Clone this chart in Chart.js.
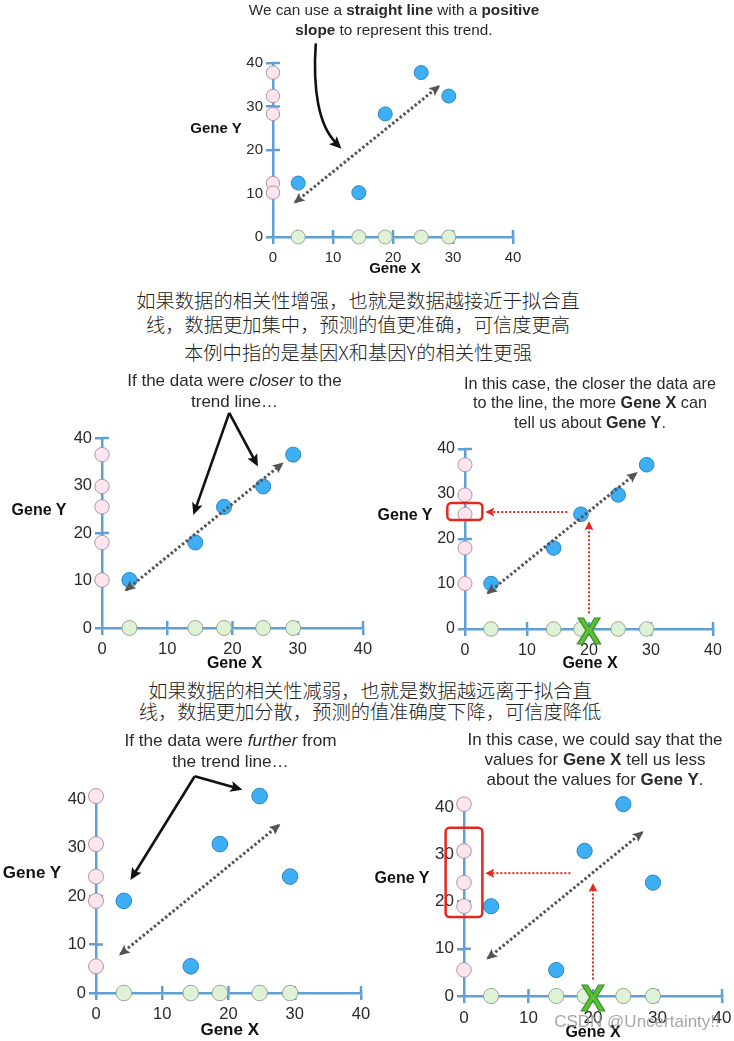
<!DOCTYPE html>
<html><head><meta charset="utf-8">
<script src="https://cdn.jsdelivr.net/npm/chart.js@4"></script>
<style>
html,body{margin:0;padding:0;background:#fff;}
body{width:734px;height:1041px;position:relative;overflow:hidden;font-family:"Liberation Sans",Arial,sans-serif;color:#222;}
canvas{position:absolute;}
.t{position:absolute;text-align:center;white-space:nowrap;width:600px;z-index:2;}
.cap{font-size:15px;color:#2a2a2a;}
.zh{font-family:"Noto Sans CJK SC",sans-serif;font-size:19.3px;color:#222;font-weight:300;}
.ax{font-weight:bold;font-size:16px;color:#111;}
.wm{font-size:17px;color:rgba(150,150,150,0.85);}
</style></head><body>
<script>
// ---------------- data ----------------
const tickVals = [0, 10, 20, 30, 40];
const geneX = [4.2, 14.3, 18.7, 24.7, 29.3];
const geneYBase = [12.4, 10.2, 28.3, 37.8, 32.4];
const geneYCloser = [10.1, 18.0, 25.5, 29.8, 36.5];
const geneYFurther = [19.0, 5.5, 30.7, 40.6, 24.0];
const trendLine = [[3.7, 8.0], [27.6, 34.6]];
const predictX = 20;
const predictY = 26;
const predictFromY = 3.5;
const predictToY = 23.5;
const predictFromX = 16.5;
const predictToX = 3.6;
// annotation paths (data units)
const curveTop = [[7.13, 44.5], [6.6, 34], [7.6, 25.5], [11.4, 20.3]];
const arrowsCloser = [[[19.5, 45.3], [14.0, 23.8]], [[19.5, 45.3], [23.9, 34.0]]];
const arrowsFurther = [[[14.9, 44.7], [5.2, 23.3]], [[14.9, 44.7], [22.1, 41.9]]];
const boxCloser = [-2.85, 24.2, 2.8, 28.0];
const boxFurther = [-2.85, 16.7, 2.85, 35.6];

const AXIS = '#5e9fd6';
const BLUE = '#3eaef5', BLUE_B = '#2a84c4';
const PINK = '#fde4ef', PINK_B = '#a8979f';
const GREEN = '#def3d5', GREEN_B = '#9aa596';
const GREY = '#555555', RED = '#e3281e';
Chart.defaults.font.family = "'Liberation Sans', Arial, sans-serif";

function head(ctx, x1, y1, x2, y2, len, w, color) {
  const a = Math.atan2(y2 - y1, x2 - x1);
  ctx.save(); ctx.fillStyle = color; ctx.beginPath();
  ctx.moveTo(x2, y2);
  ctx.lineTo(x2 - len * Math.cos(a) + w * Math.sin(a), y2 - len * Math.sin(a) - w * Math.cos(a));
  ctx.lineTo(x2 - len * Math.cos(a) * 0.8, y2 - len * Math.sin(a) * 0.8);
  ctx.lineTo(x2 - len * Math.cos(a) - w * Math.sin(a), y2 - len * Math.sin(a) + w * Math.cos(a));
  ctx.closePath(); ctx.fill(); ctx.restore();
}

const decor = {
  id: 'decor',
  beforeDatasetsDraw(chart) {
    const {ctx, chartArea: a, scales: {x, y}} = chart;
    ctx.save(); ctx.strokeStyle = AXIS; ctx.lineWidth = 2.5;
    tickVals.filter(v => v > 0).forEach(v => {
      const px = x.getPixelForValue(v);
      ctx.beginPath(); ctx.moveTo(px, a.bottom); ctx.lineTo(px, a.bottom - 7); ctx.stroke();
      const py = y.getPixelForValue(v);
      ctx.beginPath(); ctx.moveTo(a.left, py); ctx.lineTo(a.left + 7, py); ctx.stroke();
    });
    ctx.restore();
  },
  afterDatasetsDraw(chart) {
    const {ctx, scales: {x, y}} = chart;
    const o = chart.options.plugins.decor || {};
    const P = p => [x.getPixelForValue(p[0]), y.getPixelForValue(p[1])];
    // arrowheads on line datasets
    chart.data.datasets.forEach(ds => {
      if (!ds.arrow) return;
      const d = ds.data, n = d.length;
      const s = P([d[0].x, d[0].y]), e = P([d[n - 1].x, d[n - 1].y]);
      const L = ds.arrow.len, W = ds.arrow.w;
      const ux = (e[0] - s[0]), uy = (e[1] - s[1]), m = Math.hypot(ux, uy);
      const ex = e[0] + ux / m * 2, ey = e[1] + uy / m * 2;
      head(ctx, s[0], s[1], ex, ey, L, W, ds.borderColor);
      if (ds.arrow.both) head(ctx, e[0], e[1], s[0] - ux / m * 2, s[1] - uy / m * 2, L, W, ds.borderColor);
    });
    ctx.save();
    // red box
    if (o.box) {
      const p1 = P([o.box[0], o.box[3]]), p2 = P([o.box[2], o.box[1]]);
      ctx.strokeStyle = RED; ctx.lineWidth = 2.5;
      ctx.beginPath(); ctx.roundRect(p1[0], p1[1], p2[0] - p1[0], p2[1] - p1[1], 4); ctx.stroke();
    }
    // green X marker
    if (o.xmark) {
      const p = P(o.xmark);
      ctx.font = "bold 36px 'Liberation Sans', Arial, sans-serif";
      ctx.textAlign = 'center'; ctx.textBaseline = 'alphabetic';
      ctx.fillStyle = '#5ac136'; ctx.strokeStyle = '#3f8f2a'; ctx.lineWidth = 1.2;
      ctx.fillText('X', p[0], p[1] + 14.5); ctx.strokeText('X', p[0], p[1] + 14.5);
    }
    // black arrows
    ctx.strokeStyle = '#111'; ctx.lineWidth = 2.6; ctx.lineCap = 'butt';
    (o.arrows || []).forEach(ar => {
      const s = P(ar[0]), e = P(ar[1]);
      const ux = e[0] - s[0], uy = e[1] - s[1], m = Math.hypot(ux, uy);
      ctx.beginPath(); ctx.moveTo(s[0], s[1]); ctx.lineTo(e[0] - ux / m * 8, e[1] - uy / m * 8); ctx.stroke();
      head(ctx, s[0], s[1], e[0], e[1], 12, 5.5, '#111');
    });
    if (o.curve) {
      const c = o.curve.map(P);
      ctx.beginPath(); ctx.moveTo(c[0][0], c[0][1]);
      ctx.bezierCurveTo(c[1][0], c[1][1], c[2][0], c[2][1], c[3][0] - 5, c[3][1] - 5.5); ctx.stroke();
      head(ctx, c[2][0], c[2][1], c[3][0], c[3][1], 12, 5.5, '#111');
    }
    ctx.restore();
  }
};

function lineDs(points, color, width, dash, arrow) {
  return {data: points.map(p => ({x: p[0], y: p[1]})), showLine: true, borderColor: color,
    backgroundColor: color, borderWidth: width, borderDash: dash, pointRadius: 0, clip: false,
    order: 0, arrow: arrow};
}

function makeChart(geo, ys, cfg) {
  const cv = document.createElement('canvas');
  const W = geo.x40 - geo.x0 + 80, H = geo.y0 - geo.y40 + 100;
  cv.width = W; cv.height = H;
  cv.style.left = (geo.x0 - 60) + 'px'; cv.style.top = (geo.y40 - 60) + 'px';
  cv.style.width = W + 'px'; cv.style.height = H + 'px';
  document.body.appendChild(cv);
  const r = cfg.r;
  const datasets = [
    lineDs(trendLine, GREY, 3, [2.5, 2.3], {len: 11, w: 5, both: true}),
    {data: geneX.map((xv, i) => ({x: xv, y: ys[i]})), backgroundColor: BLUE, borderColor: BLUE_B,
      borderWidth: 1, pointRadius: r, clip: false, order: 1},
    {data: ys.map(v => ({x: 0, y: v})), backgroundColor: PINK, borderColor: PINK_B,
      borderWidth: 1, pointRadius: r - 0.3, clip: false, order: 2},
    {data: geneX.map(v => ({x: v, y: 0})), backgroundColor: GREEN, borderColor: GREEN_B,
      borderWidth: 1, pointRadius: r, clip: false, order: 2},
  ];
  if (cfg.predict) {
    datasets.push(lineDs([[predictFromX, predictY], [predictToX, predictY]], RED, 2, [2, 2], {len: 9, w: 4.5}));
    datasets.push(lineDs([[predictX, predictFromY], [predictX, predictToY]], RED, 2, [2, 2], {len: 9, w: 4.5}));
  }
  const scaleCommon = (fs) => ({
    type: 'linear', min: 0, max: 40,
    ticks: {stepSize: 10, color: '#2a2a2a', font: {size: fs}, maxRotation: 0, autoSkip: false},
    grid: {drawOnChartArea: false, drawTicks: true, tickLength: 7, color: AXIS, lineWidth: 2.5},
    border: {display: true, color: AXIS, width: 2.5}
  });
  const xs = scaleCommon(cfg.fs); xs.ticks.padding = 5; xs.afterFit = s => { s.height = 40; };
  const yS = scaleCommon(cfg.fs); yS.ticks.padding = 3; yS.afterFit = s => { s.width = 40; };
  return new Chart(cv, {
    type: 'scatter',
    data: {datasets},
    options: {
      responsive: false, animation: false, devicePixelRatio: 1, events: [],
      layout: {padding: {left: 20, top: 60, right: 20, bottom: 0}},
      scales: {x: xs, y: yS},
      plugins: {legend: {display: false}, tooltip: {enabled: false}, decor: cfg.decor || {}}
    },
    plugins: [decor]
  });
}

makeChart({x0: 273, x40: 513, y0: 237, y40: 63}, geneYBase, {fs: 15, r: 7, decor: {curve: curveTop}});
makeChart({x0: 102, x40: 363, y0: 628, y40: 438}, geneYCloser, {fs: 16.5, r: 7.5, decor: {arrows: arrowsCloser}});
makeChart({x0: 465, x40: 713, y0: 629, y40: 449}, geneYCloser, {fs: 16, r: 7.3, predict: true, decor: {box: boxCloser, xmark: [predictX, 0]}});
makeChart({x0: 96, x40: 361, y0: 993, y40: 799}, geneYFurther, {fs: 16.5, r: 7.8, decor: {arrows: arrowsFurther}});
makeChart({x0: 464, x40: 722, y0: 996, y40: 807}, geneYFurther, {fs: 17, r: 7.6, predict: true, decor: {box: boxFurther, xmark: [predictX, 0]}});

// ---------------- text ----------------
const TEXTS = [
  ['We can use a <b>straight line</b> with a <b>positive</b><br><b>slope</b> to represent this trend.', 394, 10, 19.5, 'cap', 15.3],
  ['如果数据的相关性增强，也就是数据越接近于拟合直<br>线，数据更加集中，预测的值更准确，可信度更高', 358, 300, 24.5, 'zh'],
  ['本例中指的是基因X和基因Y的相关性更强', 358, 351.7, 24, 'zh'],
  ['If the data were <i>closer</i> to the<br>trend line…', 234.5, 380.7, 21, 'cap', 17],
  ['In this case, the closer the data are<br>to the line, the more <b>Gene X</b> can<br>tell us about <b>Gene Y</b>.', 590, 383.3, 19.5, 'cap', 16.2],
  ['如果数据的相关性减弱，也就是数据越远离于拟合直<br>线，数据更加分散，预测的值准确度下降，可信度降低', 370, 690.5, 21, 'zh'],
  ['If the data were <i>further</i> from<br>the trend line…', 230.5, 740.7, 21, 'cap', 17.2],
  ['In this case, we could say that the<br>values for <b>Gene X</b> tell us less<br>about the values for <b>Gene Y</b>.', 595, 740, 20, 'cap', 17],
  ['Gene Y', 216, 128.3, 18, 'ax', 15], ['Gene X', 395, 268.3, 18, 'ax', 15],
  ['Gene Y', 39, 510, 18, 'ax'], ['Gene X', 234.5, 663.3, 18, 'ax'],
  ['Gene Y', 405, 515, 18, 'ax'], ['Gene X', 590, 663.3, 18, 'ax'],
  ['Gene Y', 32, 873.3, 18, 'ax', 17], ['Gene X', 229.7, 1030, 18, 'ax', 17],
  ['Gene Y', 402, 878.3, 18, 'ax'], ['Gene X', 593, 1031.7, 18, 'ax'],
  ['CSDN @Uncertainty!!', 637, 1021.5, 20, 'wm']
];
TEXTS.forEach(t => {
  const d = document.createElement('div');
  d.className = 't ' + t[4];
  d.innerHTML = t[0];
  d.style.left = (t[1] - 300) + 'px';
  d.style.top = (t[2] - t[3] / 2) + 'px';
  d.style.lineHeight = t[3] + 'px';
  if (t[5]) d.style.fontSize = t[5] + 'px';
  document.body.appendChild(d);
});
</script>
</body></html>
